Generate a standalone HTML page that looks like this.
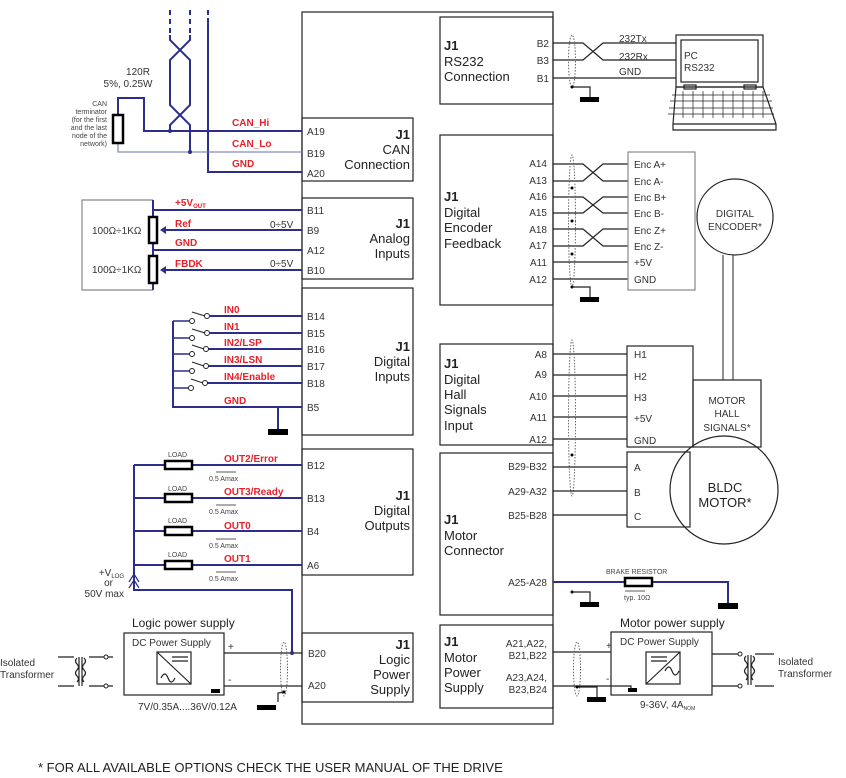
<!DOCTYPE html>
<html><head><meta charset="utf-8"><style>
html,body{margin:0;padding:0;background:#fff;}
svg{display:block;font-family:"Liberation Sans",sans-serif;}
.b{stroke:#2b2e8c;stroke-width:2;fill:none}
.k{stroke:#222;stroke-width:1.2;fill:none}
.r{fill:#e8202a;font-weight:bold;font-size:10px}
.p{fill:#333;font-size:10px}
.t{fill:#222;font-size:13px}
.s{fill:#444;font-size:7px}
</style></head><body>
<svg width="846" height="778" viewBox="0 0 846 778" xmlns="http://www.w3.org/2000/svg">
<rect x="302" y="12" width="251" height="712" class="k"/>
<rect x="302" y="118" width="111" height="63" class="k" fill="#fff"/>
<rect x="302" y="198" width="111" height="81" class="k"/>
<rect x="302" y="288" width="111" height="147" class="k"/>
<rect x="302" y="449" width="111" height="126" class="k"/>
<rect x="302" y="633" width="111" height="69" class="k"/>
<rect x="440" y="17" width="113" height="87" class="k"/>
<rect x="440" y="135" width="113" height="170" class="k"/>
<rect x="440" y="344" width="113" height="101" class="k"/>
<rect x="440" y="453" width="113" height="162" class="k"/>
<rect x="440" y="625" width="113" height="83" class="k"/>

<g class="t" text-anchor="end">
<text x="410" y="139" font-weight="bold">J1</text><text x="410" y="154">CAN</text><text x="410" y="169">Connection</text>
<text x="410" y="228" font-weight="bold">J1</text><text x="410" y="243">Analog</text><text x="410" y="258">Inputs</text>
<text x="410" y="351" font-weight="bold">J1</text><text x="410" y="366">Digital</text><text x="410" y="381">Inputs</text>
<text x="410" y="500" font-weight="bold">J1</text><text x="410" y="515">Digital</text><text x="410" y="530">Outputs</text>
<text x="410" y="649" font-weight="bold">J1</text><text x="410" y="664">Logic</text><text x="410" y="679">Power</text><text x="410" y="694">Supply</text>
</g>
<g class="t">
<text x="444" y="50" font-weight="bold">J1</text><text x="444" y="66">RS232</text><text x="444" y="81">Connection</text>
<text x="444" y="201" font-weight="bold">J1</text><text x="444" y="217">Digital</text><text x="444" y="232">Encoder</text><text x="444" y="248">Feedback</text>
<text x="444" y="368" font-weight="bold">J1</text><text x="444" y="384">Digital</text><text x="444" y="399">Hall</text><text x="444" y="414">Signals</text><text x="444" y="430">Input</text>
<text x="444" y="524" font-weight="bold">J1</text><text x="444" y="540">Motor</text><text x="444" y="555">Connector</text>
<text x="444" y="646" font-weight="bold">J1</text><text x="444" y="662">Motor</text><text x="444" y="677">Power</text><text x="444" y="692">Supply</text>
</g>

<g class="b" stroke-width="2">
<path d="M170,10v25M190,10v25" stroke-dasharray="5,4"/>
<path d="M170,35v5l20,20v45l-20,20v6M190,35v5l-20,20v45l20,20v27" />
<path d="M208,10v8" stroke-dasharray="5,4"/><path d="M208,18v154h94"/>
<path d="M118,115V98h26v33h158"/>
<path d="M118,143v9h184" stroke="#6a6cae" stroke-width="1"/>
</g>
<circle cx="170" cy="131" r="2" fill="#2b2e8c"/><circle cx="190" cy="152" r="2" fill="#2b2e8c"/>
<rect x="113" y="115" width="10" height="28" fill="#fff" stroke="#000" stroke-width="2.5"/>
<text x="138" y="75" class="p" text-anchor="middle" fill="#555">120R</text>
<text x="128" y="87" class="p" text-anchor="middle" fill="#555">5%, 0.25W</text>
<g class="s" text-anchor="end" font-size="6.5"><text x="107" y="106">CAN</text><text x="107" y="114">terminator</text><text x="107" y="122">(for the first</text><text x="107" y="130">and the last</text><text x="107" y="138">node of the</text><text x="107" y="146">network)</text></g>
<text x="232" y="126" class="r">CAN_Hi</text><text x="232" y="147" class="r">CAN_Lo</text><text x="232" y="167" class="r">GND</text>
<g class="p"><text x="307" y="135">A19</text><text x="307" y="157">B19</text><text x="307" y="177">A20</text></g>

<path d="M153,200H82v90h71" stroke="#888" stroke-width="1.2" fill="none"/>
<g class="b"><path d="M153,200v90M153,210h149M153,250h149M165,230h137M165,270h137"/></g>
<path d="M160,230l6,-4v8z M160,270l6,-4v8z" fill="#2b2e8c"/>
<rect x="149" y="217" width="8" height="26" fill="#fff" stroke="#000" stroke-width="2.5"/>
<rect x="149" y="256" width="8" height="27" fill="#fff" stroke="#000" stroke-width="2.5"/>
<g class="p"><text x="92" y="234">100Ω÷1KΩ</text><text x="92" y="273">100Ω÷1KΩ</text>
<text x="270" y="228">0÷5V</text><text x="270" y="267">0÷5V</text>
<text x="307" y="214">B11</text><text x="307" y="234">B9</text><text x="307" y="254">A12</text><text x="307" y="274">B10</text></g>
<text x="175" y="206" class="r">+5V<tspan font-size="6" dy="2">OUT</tspan></text>
<text x="175" y="227" class="r">Ref</text><text x="175" y="246" class="r">GND</text><text x="175" y="267" class="r">FBDK</text>

<g class="b" stroke-width="2">
<path d="M173,321v86h129M278,407v23"/>
<path d="M210,316h92M210,333h92M208,349h94M208,366h94M206,383h96"/>
<path d="M173,321h17M173,338h17M173,354h17M173,371h17M173,388h17" stroke-width="1.5"/>
</g>
<rect x="268" y="429" width="20" height="6" fill="#000"/>
<g stroke="#222" fill="#fff" stroke-width="1">
<circle cx="192" cy="321" r="2.5"/><circle cx="207" cy="316" r="2.5"/><path d="M192,312l13,4"/>
<circle cx="192" cy="338" r="2.5"/><circle cx="207" cy="333" r="2.5"/><path d="M192,329l13,4"/>
<circle cx="192" cy="354" r="2.5"/><circle cx="206" cy="349" r="2.5"/><path d="M192,345l12,4"/>
<circle cx="192" cy="371" r="2.5"/><circle cx="206" cy="366" r="2.5"/><path d="M192,362l12,4"/>
<circle cx="191" cy="388" r="2.5"/><circle cx="205" cy="383" r="2.5"/><path d="M191,379l12,4"/>
</g>
<g class="r"><text x="224" y="313">IN0</text><text x="224" y="330">IN1</text><text x="224" y="346">IN2/LSP</text><text x="224" y="363">IN3/LSN</text><text x="224" y="380">IN4/Enable</text><text x="224" y="404">GND</text></g>
<g class="p"><text x="307" y="320">B14</text><text x="307" y="337">B15</text><text x="307" y="353">B16</text><text x="307" y="370">B17</text><text x="307" y="387">B18</text><text x="307" y="411">B5</text></g>

<g class="b" stroke-width="2"><path d="M134,465v125h158v63M134,465h168M134,498h168M134,531h168M134,565h168"/></g>
<path d="M134,576v-7M129,582l5,-8l5,8M129,588l5,-8l5,8" stroke="#2b2e8c" stroke-width="1.2" fill="none"/>
<g fill="#fff" stroke="#000" stroke-width="2.5"><rect x="165" y="461" width="27" height="8"/><rect x="165" y="494" width="27" height="8"/><rect x="165" y="527" width="27" height="8"/><rect x="165" y="561" width="27" height="8"/></g>
<g class="s"><text x="168" y="457">LOAD</text><text x="168" y="491">LOAD</text><text x="168" y="523">LOAD</text><text x="168" y="557">LOAD</text>
<text x="209" y="481">0.5 Amax</text><text x="209" y="514">0.5 Amax</text><text x="209" y="548">0.5 Amax</text><text x="209" y="581">0.5 Amax</text></g>
<g stroke="#222" stroke-width="0.8"><path d="M216,472h20M216,505h20M216,539h20M216,572h20"/></g>
<g class="r"><text x="224" y="462">OUT2/Error</text><text x="224" y="495">OUT3/Ready</text><text x="224" y="529">OUT0</text><text x="224" y="562">OUT1</text></g>
<g class="p"><text x="307" y="469">B12</text><text x="307" y="502">B13</text><text x="307" y="535">B4</text><text x="307" y="569">A6</text></g>
<g class="p" text-anchor="end"><text x="124" y="576">+V<tspan font-size="6" dy="2">LOG</tspan></text><text x="113" y="586">or</text><text x="124" y="597">50V max</text></g>

<text x="132" y="627" fill="#222" font-size="12">Logic power supply</text>
<rect x="124" y="633" width="100" height="62" class="k"/>
<text x="132" y="646" class="p">DC Power Supply</text>
<rect x="157" y="652" width="34" height="32" class="k"/><path d="M157,652l34,32M172,657h16M172,661h16" class="k"/>
<path d="M161,678q4,-8 7,0t7,0" class="k"/>
<path d="M224,653h78M224,686h78" class="k"/>
<rect x="211" y="689" width="9" height="4" fill="#000"/>
<text x="228" y="650" class="p" font-size="8">+</text><text x="228" y="683" class="p" font-size="8">-</text>
<circle cx="292" cy="653" r="2" fill="#2b2e8c"/>
<ellipse cx="284" cy="669" rx="3.5" ry="27" fill="none" stroke="#666" stroke-dasharray="1.5,1.5"/>
<path d="M284,692l-6,1v9" class="k"/><circle cx="284" cy="692" r="1.5" fill="#000"/>
<rect x="257" y="705" width="19" height="5" fill="#000"/>
<text x="308" y="657" class="p">B20</text><text x="308" y="689" class="p">A20</text>
<text x="138" y="710" class="p" fill="#444">7V/0.35A....36V/0.12A</text>
<g class="p"><text x="0" y="666">Isolated</text><text x="0" y="678">Transformer</text></g>
<path d="M58,657h16M58,686h16M89,657h24M89,686h24" class="k"/>
<g fill="#fff" stroke="#222"><circle cx="106" cy="657" r="2"/><circle cx="106" cy="686" r="2"/></g>
<path d="M79,657v29M82,657v29M77,658q-3,3 0,6t0,6t0,6t0,6M84,658q3,3 0,6t0,6t0,6t0,6" class="k" stroke-width="0.8"/>

<g class="k"><path d="M553,43h30l20,17h73M553,60h30l20,-17h73M553,78h123"/></g>
<ellipse cx="572" cy="61" rx="3.5" ry="26" fill="none" stroke="#666" stroke-dasharray="1.5,1.5"/>
<path d="M572,87h18v10" class="k"/><circle cx="572" cy="87" r="1.5" fill="#000"/>
<rect x="580" y="97" width="19" height="5" fill="#000"/>
<g class="p"><text x="549" y="47" text-anchor="end">B2</text><text x="549" y="64" text-anchor="end">B3</text><text x="549" y="82" text-anchor="end">B1</text>
<text x="619" y="42">232Tx</text><text x="619" y="60">232Rx</text><text x="619" y="75">GND</text></g>
<rect x="676" y="35" width="87" height="52" class="k"/><rect x="681" y="40" width="77" height="42" class="k" stroke-width="0.8"/>
<text x="684" y="59" class="p">PC</text><text x="684" y="71" class="p">RS232</text>
<path d="M676,87h87l13,37v6h-103v-6z" class="k"/>
<path d="M673,124h103" class="k" stroke-width="0.8"/>
<g stroke="#222" stroke-width="0.7"><path d="M672,95h98M670,101h102M669,108h104M668,114h106"/>
<path d="M683,91v27M693,91v27M703,91v27M713,91v27M723,91v27M733,91v27M743,91v27M753,91v27M763,91v27"/></g>
<rect x="684" y="85" width="12" height="4" class="k" fill="#fff"/><rect x="744" y="85" width="12" height="4" class="k" fill="#fff"/>

<g class="k">
<path d="M553,164h30l20,17h25M553,181h30l20,-17h25M553,197h30l20,16h25M553,213h30l20,-16h25M553,229h30l20,17h25M553,246h30l20,-17h25M553,262h75M553,279h75"/>
</g>
<ellipse cx="572" cy="221" rx="3.5" ry="66" fill="none" stroke="#666" stroke-dasharray="1.5,1.5"/>
<g fill="#000"><circle cx="572" cy="188" r="1.5"/><circle cx="572" cy="221" r="1.5"/><circle cx="572" cy="254" r="1.5"/><circle cx="572" cy="287" r="1.5"/></g>
<path d="M572,287h18v10" class="k"/><rect x="580" y="297" width="19" height="5" fill="#000"/>
<g class="p" text-anchor="end"><text x="547" y="167">A14</text><text x="547" y="184">A13</text><text x="547" y="200">A16</text><text x="547" y="216">A15</text><text x="547" y="233">A18</text><text x="547" y="249">A17</text><text x="547" y="266">A11</text><text x="547" y="283">A12</text></g>
<rect x="628" y="152" width="67" height="138" fill="none" stroke="#888" stroke-width="1.2"/>
<g class="p"><text x="634" y="168">Enc A+</text><text x="634" y="185">Enc A-</text><text x="634" y="201">Enc B+</text><text x="634" y="217">Enc B-</text><text x="634" y="234">Enc Z+</text><text x="634" y="250">Enc Z-</text><text x="634" y="266">+5V</text><text x="634" y="283">GND</text></g>
<circle cx="735" cy="217" r="38" class="k"/>
<text x="735" y="217" class="p" font-size="11" text-anchor="middle">DIGITAL</text><text x="735" y="230" class="p" font-size="11" text-anchor="middle">ENCODER*</text>
<path d="M723,255v125M733,255v125" stroke="#222" stroke-width="1"/>

<g class="k"><path d="M553,354h74M553,375h74M553,396h74M553,417h74M553,439h74"/></g>
<ellipse cx="572" cy="418" rx="3.5" ry="78" fill="none" stroke="#666" stroke-dasharray="1.5,1.5"/>
<rect x="627" y="346" width="66" height="101" class="k"/>
<g class="p" text-anchor="end"><text x="547" y="358">A8</text><text x="547" y="378">A9</text><text x="547" y="400">A10</text><text x="547" y="421">A11</text><text x="547" y="443">A12</text></g>
<g class="p"><text x="634" y="358">H1</text><text x="634" y="380">H2</text><text x="634" y="401">H3</text><text x="634" y="422">+5V</text><text x="634" y="444">GND</text></g>

<g class="k"><path d="M553,467h74M553,491h74M553,515h74"/></g>
<rect x="627" y="452" width="63" height="75" class="k"/>
<circle cx="724" cy="490" r="54" class="k" fill="#fff"/>
<rect x="693" y="380" width="68" height="67" class="k" fill="#fff"/>
<g class="p" font-size="11" text-anchor="middle"><text x="727" y="404">MOTOR</text><text x="727" y="417">HALL</text><text x="727" y="431">SIGNALS*</text></g>
<text x="725" y="492" class="t" font-size="15" text-anchor="middle">BLDC</text><text x="725" y="507" class="t" font-size="15" text-anchor="middle">MOTOR*</text>
<g class="p" text-anchor="end"><text x="547" y="470">B29-B32</text><text x="547" y="495">A29-A32</text><text x="547" y="519">B25-B28</text><text x="547" y="586">A25-A28</text></g>
<g class="p" font-size="12"><text x="634" y="471">A</text><text x="634" y="496">B</text><text x="634" y="520">C</text></g>
<path d="M553,582h175v21" class="b"/><rect x="718" y="603" width="20" height="6" fill="#000"/>
<rect x="625" y="578" width="27" height="8" fill="#fff" stroke="#000" stroke-width="2.5"/>
<text x="606" y="574" class="s">BRAKE RESISTOR</text><text x="624" y="600" class="s">typ. 10Ω</text>
<path d="M625,591h20" stroke="#222" stroke-width="0.8"/>
<path d="M572,592h18v10" class="k"/><circle cx="572" cy="592" r="1.5" fill="#000"/><rect x="580" y="602" width="19" height="5" fill="#000"/>
<circle cx="572" cy="455" r="1.5" fill="#000"/>

<g class="p" font-size="9" text-anchor="end"><text x="547" y="647">A21,A22,</text><text x="547" y="659">B21,B22</text><text x="547" y="681">A23,A24,</text><text x="547" y="693">B23,B24</text></g>
<path d="M553,652h58M553,686h58" class="k"/>
<ellipse cx="577" cy="669" rx="3.5" ry="27" fill="none" stroke="#666" stroke-dasharray="1.5,1.5"/>
<path d="M577,687h20v10" class="k"/><circle cx="577" cy="687" r="1.5" fill="#000"/><rect x="587" y="697" width="19" height="5" fill="#000"/>
<text x="620" y="627" fill="#222" font-size="12">Motor power supply</text>
<rect x="611" y="632" width="101" height="63" class="k"/>
<text x="620" y="645" class="p">DC Power Supply</text>
<rect x="646" y="652" width="34" height="32" class="k"/><path d="M646,684l34,-32M651,657h16M651,661h16" class="k"/>
<path d="M665,671q4,-8 7,0t7,0" class="k"/>
<rect x="628" y="688" width="9" height="4" fill="#000"/><path d="M611,686h20v4" class="k"/>
<text x="606" y="649" class="p" font-size="8">+</text><text x="606" y="682" class="p" font-size="8">-</text>
<text x="640" y="708" class="p" fill="#444">9-36V, 4A<tspan font-size="5" dy="2">NOM</tspan></text>
<path d="M712,654h28M712,686h28M755,654h19M755,686h19" class="k"/>
<g fill="#fff" stroke="#222"><circle cx="740" cy="654" r="2"/><circle cx="740" cy="686" r="2"/></g>
<path d="M748,655v30M751,655v30M746,656q-3,3 0,6t0,6t0,6t0,6M753,656q3,3 0,6t0,6t0,6t0,6" class="k" stroke-width="0.8"/>
<g class="p"><text x="778" y="665">Isolated</text><text x="778" y="677">Transformer</text></g>

<text x="38" y="772" fill="#222" font-size="13">* FOR ALL AVAILABLE OPTIONS CHECK THE USER MANUAL OF THE DRIVE</text>
</svg>
</body></html>
